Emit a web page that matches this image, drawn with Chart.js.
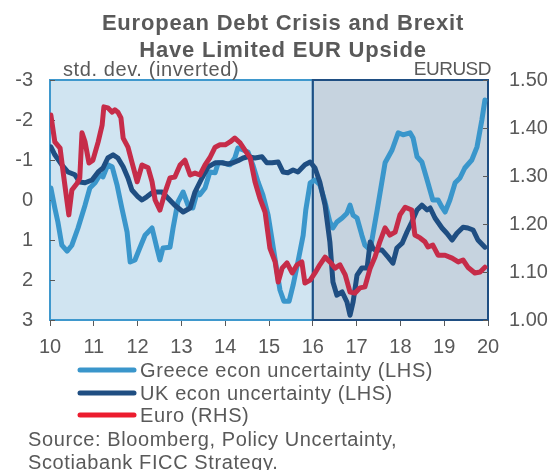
<!DOCTYPE html>
<html>
<head>
<meta charset="utf-8">
<script src="https://cdn.jsdelivr.net/npm/chart.js@4.4.1/dist/chart.umd.min.js"></script>
<style>
    body { margin: 0; background: #ffffff; }
    #wrap { position: relative; width: 554px; height: 470px; }
</style>
</head>
<body>
<div id="wrap"><canvas id="myChart" width="554" height="470"></canvas></div>
<script>
// Greece econ uncertainty (LHS, std. dev., axis inverted)
const greeceYears = [10.02, 10.11, 10.18, 10.27, 10.39, 10.50, 10.64, 10.80, 10.91, 11.03, 11.14, 11.21, 11.32, 11.42, 11.53, 11.64, 11.76, 11.83, 11.94, 12.05, 12.17, 12.33, 12.44, 12.51, 12.58, 12.74, 12.81, 12.92, 13.04, 13.15, 13.26, 13.36, 13.42, 13.54, 13.65, 13.77, 13.84, 13.95, 14.11, 14.22, 14.29, 14.41, 14.52, 14.63, 14.75, 14.86, 14.98, 15.07, 15.16, 15.25, 15.34, 15.46, 15.55, 15.66, 15.78, 15.84, 15.94, 16.05, 16.16, 16.28, 16.39, 16.46, 16.55, 16.67, 16.78, 16.85, 16.92, 17.01, 17.12, 17.19, 17.31, 17.47, 17.65, 17.81, 17.95, 18.06, 18.22, 18.29, 18.38, 18.49, 18.61, 18.74, 18.86, 18.95, 19.02, 19.13, 19.25, 19.36, 19.47, 19.63, 19.75, 19.86, 19.93];
const greeceValues = [-0.30, 0.20, 0.55, 1.13, 1.28, 1.13, 0.70, 0.13, -0.30, -0.43, -0.63, -0.58, -0.88, -0.83, -0.38, 0.20, 0.80, 1.55, 1.50, 1.20, 0.88, 0.70, 1.20, 1.50, 1.20, 1.18, 0.70, 0.05, -0.20, 0.13, 0.20, -0.20, -0.13, -0.30, -0.70, -0.68, -0.93, -0.93, -0.88, -1.05, -1.30, -1.25, -1.20, -0.88, -0.45, -0.13, 0.38, 1.00, 1.63, 2.25, 2.53, 2.53, 2.13, 1.55, 0.88, 0.25, -0.43, -0.50, -0.38, 0.05, 0.55, 0.70, 0.55, 0.45, 0.33, 0.13, 0.38, 0.45, 0.88, 1.13, 1.25, 0.25, -0.93, -1.25, -1.68, -1.63, -1.68, -1.55, -1.08, -0.95, -0.50, 0.00, 0.00, 0.18, 0.30, 0.00, -0.43, -0.55, -0.80, -1.00, -1.33, -2.00, -2.50];

// UK econ uncertainty (LHS)
const ukYears = [10.02, 10.11, 10.27, 10.41, 10.57, 10.68, 10.80, 10.96, 11.10, 11.21, 11.32, 11.44, 11.55, 11.67, 11.78, 11.87, 12.01, 12.10, 12.21, 12.33, 12.44, 12.56, 12.69, 12.85, 13.04, 13.20, 13.31, 13.47, 13.61, 13.77, 13.93, 14.06, 14.18, 14.29, 14.41, 14.52, 14.68, 14.84, 14.95, 15.07, 15.21, 15.32, 15.43, 15.55, 15.66, 15.82, 15.94, 16.05, 16.16, 16.28, 16.39, 16.46, 16.55, 16.67, 16.78, 16.85, 16.92, 17.01, 17.12, 17.24, 17.31, 17.37, 17.42, 17.58, 17.72, 17.83, 17.92, 18.04, 18.15, 18.26, 18.38, 18.49, 18.61, 18.68, 18.79, 18.95, 19.06, 19.18, 19.29, 19.43, 19.54, 19.66, 19.77, 19.93];
const ukValues = [-1.33, -1.13, -0.88, -0.70, -0.63, -0.45, -0.43, -0.50, -0.70, -0.80, -1.05, -1.13, -1.05, -0.83, -0.55, -0.25, -0.08, 0.00, -0.08, -0.18, -0.20, -0.20, -0.05, 0.13, 0.30, 0.20, -0.20, -0.55, -0.83, -0.93, -0.93, -0.90, -0.93, -0.98, -1.05, -1.08, -1.05, -1.08, -0.93, -0.93, -0.95, -0.70, -0.68, -0.75, -0.70, -0.88, -0.95, -0.80, -0.45, 0.13, 1.05, 2.05, 2.38, 2.30, 2.55, 2.88, 2.55, 1.88, 1.70, 1.70, 1.05, 1.20, 1.25, 1.25, 1.43, 1.58, 1.20, 1.08, 0.80, 0.55, 0.25, 0.13, 0.25, 0.20, 0.45, 0.70, 0.83, 1.00, 0.83, 0.68, 0.70, 0.75, 1.00, 1.18];

// Euro (RHS, EURUSD)
const euroYears = [10.02, 10.11, 10.23, 10.30, 10.39, 10.43, 10.50, 10.62, 10.68, 10.73, 10.80, 10.89, 10.98, 11.10, 11.19, 11.23, 11.32, 11.42, 11.48, 11.55, 11.62, 11.67, 11.78, 11.87, 11.99, 12.10, 12.24, 12.33, 12.40, 12.51, 12.63, 12.74, 12.85, 12.97, 13.08, 13.20, 13.31, 13.42, 13.54, 13.65, 13.77, 13.88, 14.00, 14.11, 14.22, 14.34, 14.45, 14.57, 14.68, 14.79, 14.91, 15.02, 15.14, 15.21, 15.30, 15.41, 15.53, 15.64, 15.75, 15.82, 15.94, 16.05, 16.16, 16.28, 16.39, 16.51, 16.62, 16.74, 16.85, 16.96, 17.08, 17.19, 17.31, 17.42, 17.53, 17.65, 17.76, 17.88, 17.99, 18.11, 18.26, 18.33, 18.45, 18.56, 18.63, 18.74, 18.86, 19.02, 19.18, 19.32, 19.43, 19.54, 19.70, 19.82, 19.93];
const euroValues = [1.427, 1.371, 1.358, 1.308, 1.246, 1.219, 1.271, 1.285, 1.296, 1.390, 1.371, 1.327, 1.333, 1.371, 1.406, 1.444, 1.442, 1.433, 1.438, 1.433, 1.421, 1.379, 1.360, 1.329, 1.288, 1.323, 1.317, 1.288, 1.250, 1.229, 1.267, 1.296, 1.298, 1.323, 1.333, 1.302, 1.306, 1.302, 1.323, 1.338, 1.360, 1.365, 1.365, 1.371, 1.379, 1.369, 1.354, 1.338, 1.288, 1.254, 1.225, 1.150, 1.121, 1.079, 1.108, 1.119, 1.098, 1.115, 1.121, 1.077, 1.083, 1.098, 1.115, 1.131, 1.121, 1.108, 1.115, 1.094, 1.058, 1.056, 1.067, 1.069, 1.108, 1.131, 1.163, 1.192, 1.177, 1.183, 1.219, 1.235, 1.229, 1.177, 1.171, 1.163, 1.152, 1.156, 1.135, 1.135, 1.129, 1.121, 1.125, 1.110, 1.098, 1.100, 1.110];

const leftTicks = [-3, -2, -1, 0, 1, 2, 3];
const rightTicks = [1.0, 1.1, 1.2, 1.3, 1.4, 1.5];
const yearTicks = [10, 11, 12, 13, 14, 15, 16, 17, 18, 19, 20];
const brexitYear = 16;

const seriesNames = ['Greece econ uncertainty (LHS)', 'UK econ uncertainty (LHS)', 'Euro (RHS)'];
const lineColors = ['#3a96cb', '#1f4e82', '#c62c49'];
const legendColors = ['#3a96cb', '#1f4e82', '#ec1c2e'];

const FONT = '"Liberation Sans", Arial, sans-serif';
const GREY = '#595959';

function toPoints(xs, ys) {
    return xs.map((x, i) => ({ x: x, y: ys[i] }));
}

// shaded panels behind the lines
const panelPlugin = {
    id: 'panels',
    beforeDatasetsDraw(chart) {
        const { ctx, chartArea: a, scales } = chart;
        const xMid = scales.x.getPixelForValue(brexitYear);
        ctx.save();
        ctx.fillStyle = '#d0e4f1';
        ctx.fillRect(a.left, a.top, xMid - a.left, a.bottom - a.top);
        ctx.fillStyle = '#c6d3df';
        ctx.fillRect(xMid, a.top, a.right - xMid, a.bottom - a.top);
        ctx.lineWidth = 2;
        ctx.strokeStyle = '#3f98cd';
        ctx.strokeRect(a.left, a.top, xMid - a.left, a.bottom - a.top);
        ctx.strokeStyle = '#1f4e82';
        ctx.strokeRect(xMid, a.top, a.right - xMid, a.bottom - a.top);

        // small inside tick marks on both value axes
        ctx.lineWidth = 1;
        ctx.strokeStyle = GREY;
        leftTicks.forEach(v => {
            const y = Math.round(scales.y.getPixelForValue(v)) + 0.5;
            ctx.beginPath();
            ctx.moveTo(a.left, y);
            ctx.lineTo(a.left + 5, y);
            ctx.stroke();
        });
        rightTicks.forEach(v => {
            const y = Math.round(scales.y2.getPixelForValue(v)) + 0.5;
            ctx.beginPath();
            ctx.moveTo(a.right - 5, y);
            ctx.lineTo(a.right, y);
            ctx.stroke();
        });
        ctx.restore();
    }
};

// title, axis captions, legend and source
const textPlugin = {
    id: 'texts',
    afterDraw(chart) {
        const { ctx } = chart;
        ctx.save();
        ctx.fillStyle = GREY;
        ctx.textBaseline = 'middle';

        ctx.font = 'bold 22px ' + FONT;
        ctx.letterSpacing = '0.8px';
        ctx.textAlign = 'center';
        ctx.fillText('European Debt Crisis and Brexit', 283, 24);
        ctx.fillText('Have Limited EUR Upside', 283, 51);

        ctx.font = '20px ' + FONT;
        ctx.letterSpacing = '0.6px';
        ctx.textAlign = 'left';
        ctx.fillText('std. dev. (inverted)', 63, 70);
        ctx.font = '19px ' + FONT;
        ctx.letterSpacing = '-0.5px';
        ctx.textAlign = 'right';
        ctx.fillText('EURUSD', 491, 70);

        ctx.textAlign = 'left';
        ctx.font = '20px ' + FONT;
        ctx.letterSpacing = '0.6px';
        const rows = [370, 393, 415];
        seriesNames.forEach((name, i) => {
            ctx.strokeStyle = legendColors[i];
            ctx.lineWidth = 5;
            ctx.lineCap = 'round';
            ctx.beginPath();
            ctx.moveTo(80, rows[i]);
            ctx.lineTo(134, rows[i]);
            ctx.stroke();
            ctx.fillText(name, 140, rows[i] + 1);
        });

        ctx.fillText('Source: Bloomberg, Policy Uncertainty,', 28, 440);
        ctx.fillText('Scotiabank FICC Strategy.', 28, 463);
        ctx.restore();
    }
};

const ctx = document.getElementById('myChart').getContext('2d');
new Chart(ctx, {
    type: 'line',
    data: {
        datasets: [
            {
                label: seriesNames[0],
                data: toPoints(greeceYears, greeceValues),
                borderColor: lineColors[0],
                yAxisID: 'y',
                order: 2
            },
            {
                label: seriesNames[1],
                data: toPoints(ukYears, ukValues),
                borderColor: lineColors[1],
                yAxisID: 'y',
                order: 1
            },
            {
                label: seriesNames[2],
                data: toPoints(euroYears, euroValues),
                borderColor: lineColors[2],
                yAxisID: 'y2',
                order: 0
            }
        ]
    },
    options: {
        responsive: false,
        animation: false,
        layout: { padding: { top: 80, left: 0, right: 0, bottom: 0 } },
        elements: {
            line: { borderWidth: 5, tension: 0, borderJoinStyle: 'round', borderCapStyle: 'round' },
            point: { radius: 0 }
        },
        plugins: {
            legend: { display: false },
            tooltip: { enabled: false }
        },
        scales: {
            x: {
                type: 'linear',
                min: 10,
                max: 20,
                afterBuildTicks: s => { s.ticks = yearTicks.map(v => ({ value: v })); },
                afterFit: s => { s.height = 150; },
                border: { display: false },
                grid: { drawOnChartArea: false, drawTicks: true, tickLength: 6, color: GREY },
                ticks: { color: GREY, font: { family: FONT, size: 20 }, padding: 9, maxRotation: 0 }
            },
            y: {
                position: 'left',
                min: -3,
                max: 3,
                reverse: true,
                afterBuildTicks: s => { s.ticks = leftTicks.map(v => ({ value: v })); },
                afterFit: s => { s.width = 50; },
                border: { display: false },
                grid: { display: false, drawTicks: false },
                ticks: { color: GREY, font: { family: FONT, size: 20 }, padding: 17 }
            },
            y2: {
                position: 'right',
                min: 1.0,
                max: 1.5,
                afterBuildTicks: s => { s.ticks = rightTicks.map(v => ({ value: v })); },
                afterFit: s => { s.width = 66; },
                border: { display: false },
                grid: { display: false, drawTicks: false },
                ticks: {
                    color: GREY,
                    font: { family: FONT, size: 20 },
                    padding: 21,
                    callback: v => v.toFixed(2)
                }
            }
        }
    },
    plugins: [panelPlugin, textPlugin]
});
</script>
</body>
</html>
